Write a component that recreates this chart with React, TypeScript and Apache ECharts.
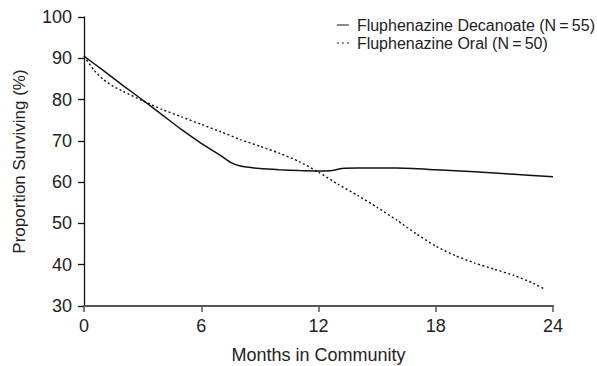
import React, { useEffect, useRef } from "react";
import * as echarts from "echarts";

const decanoateMonths = [0, 1, 2, 3, 4, 5, 6, 7, 7.5, 8, 9, 10, 11, 12, 12.7, 13.2, 14, 16, 18, 20, 22, 24];
const decanoateValues = [90.5, 87.0, 83.4, 79.9, 76.3, 72.7, 69.4, 66.4, 64.8, 63.9, 63.3, 63.0, 62.8, 62.7, 62.8, 63.3, 63.4, 63.4, 63.0, 62.5, 61.9, 61.3];

const oralMonths = [0, 0.5, 1, 1.5, 2, 3, 4, 5, 6, 7, 8, 9, 10, 11, 12, 13, 14, 15, 16, 17, 18, 19, 20, 21, 22, 23, 23.6];
const oralValues = [90.5, 87.2, 84.8, 83.2, 82.0, 79.7, 77.6, 75.8, 74.0, 72.2, 70.3, 68.7, 67.0, 65.0, 62.4, 59.5, 56.8, 53.9, 50.8, 47.5, 44.5, 42.2, 40.4, 38.9, 37.4, 35.5, 34.0];

const seriesNames = ["Fluphenazine Decanoate (N\u2009=\u200955)", "Fluphenazine Oral (N\u2009=\u200950)"];
const xTitle = "Months in Community";
const yTitle = "Proportion Surviving (%)";

const FONT = "'Liberation Sans', Arial, Helvetica, sans-serif";
const TEXT = "#222";

export default function App() {
  const ref = useRef<HTMLDivElement>(null);
  useEffect(() => {
    if (!ref.current) return;
    const chart = echarts.init(ref.current, undefined, { renderer: "svg" });
    const pair = (xs: number[], ys: number[]) => xs.map((x, i) => [x, ys[i]]);
    chart.setOption({
      animation: false,
      backgroundColor: "#fff",
      textStyle: { fontFamily: FONT },
      grid: { left: 84, top: 17, width: 469, height: 289, containLabel: false, outerBoundsMode: "none" },
      legend: {
        orient: "vertical",
        right: 2,
        top: 16,
        padding: 0,
        itemGap: 0,
        itemWidth: 12,
        itemHeight: 1.5,
        align: "left",
        itemStyle: { color: "#111", borderWidth: 0 },
        lineStyle: { width: 0 },
        textStyle: { fontFamily: FONT, fontSize: 16, color: TEXT, lineHeight: 18, padding: [0, 0, 0, 3] },
        data: [
          { name: seriesNames[0], icon: "path://M0,0h12v1h-12z" },
          { name: seriesNames[1], icon: "path://M0,0h2v1h-2z M5,0h2v1h-2z M10,0h2v1h-2z" },
        ],
      },
      xAxis: {
        type: "value",
        min: 0,
        max: 24,
        interval: 6,
        name: xTitle,
        nameLocation: "middle",
        nameGap: 40,
        nameTextStyle: { fontFamily: FONT, fontSize: 18, color: TEXT },
        axisLine: { show: true, lineStyle: { color: "#555", width: 2 } },
        axisTick: { show: true, length: 6, lineStyle: { color: "#555", width: 1.5 } },
        axisLabel: { fontFamily: FONT, fontSize: 18, color: TEXT, margin: 11 },
        splitLine: { show: false },
      },
      yAxis: {
        type: "value",
        min: 30,
        max: 100,
        interval: 10,
        name: yTitle,
        nameLocation: "middle",
        nameGap: 56,
        nameTextStyle: { fontFamily: FONT, fontSize: 17, color: TEXT, padding: [0, 0, 0, 0] },
        axisLine: { show: true, lineStyle: { color: "#111", width: 1.3 } },
        axisTick: { show: true, length: 6, lineStyle: { color: "#111", width: 1.3 } },
        axisLabel: { fontFamily: FONT, fontSize: 18, color: TEXT, margin: 12 },
        splitLine: { show: false },
      },
      series: [
        {
          name: seriesNames[0],
          type: "line",
          data: pair(decanoateMonths, decanoateValues),
          showSymbol: false,
          symbol: "none",
          smooth: 0.2,
          lineStyle: { color: "#111", width: 1.5, type: "solid" },
          itemStyle: { color: "#111" },
        },
        {
          name: seriesNames[1],
          type: "line",
          data: pair(oralMonths, oralValues),
          showSymbol: false,
          symbol: "none",
          smooth: 0.2,
          lineStyle: { color: "#111", width: 1.4, type: [2, 2.5] },
          itemStyle: { color: "#111" },
        },
      ],
    });
    return () => chart.dispose();
  }, []);
  return <div ref={ref} style={{ width: 597, height: 366, position: "absolute", left: 0, top: 0 }} />;
}
